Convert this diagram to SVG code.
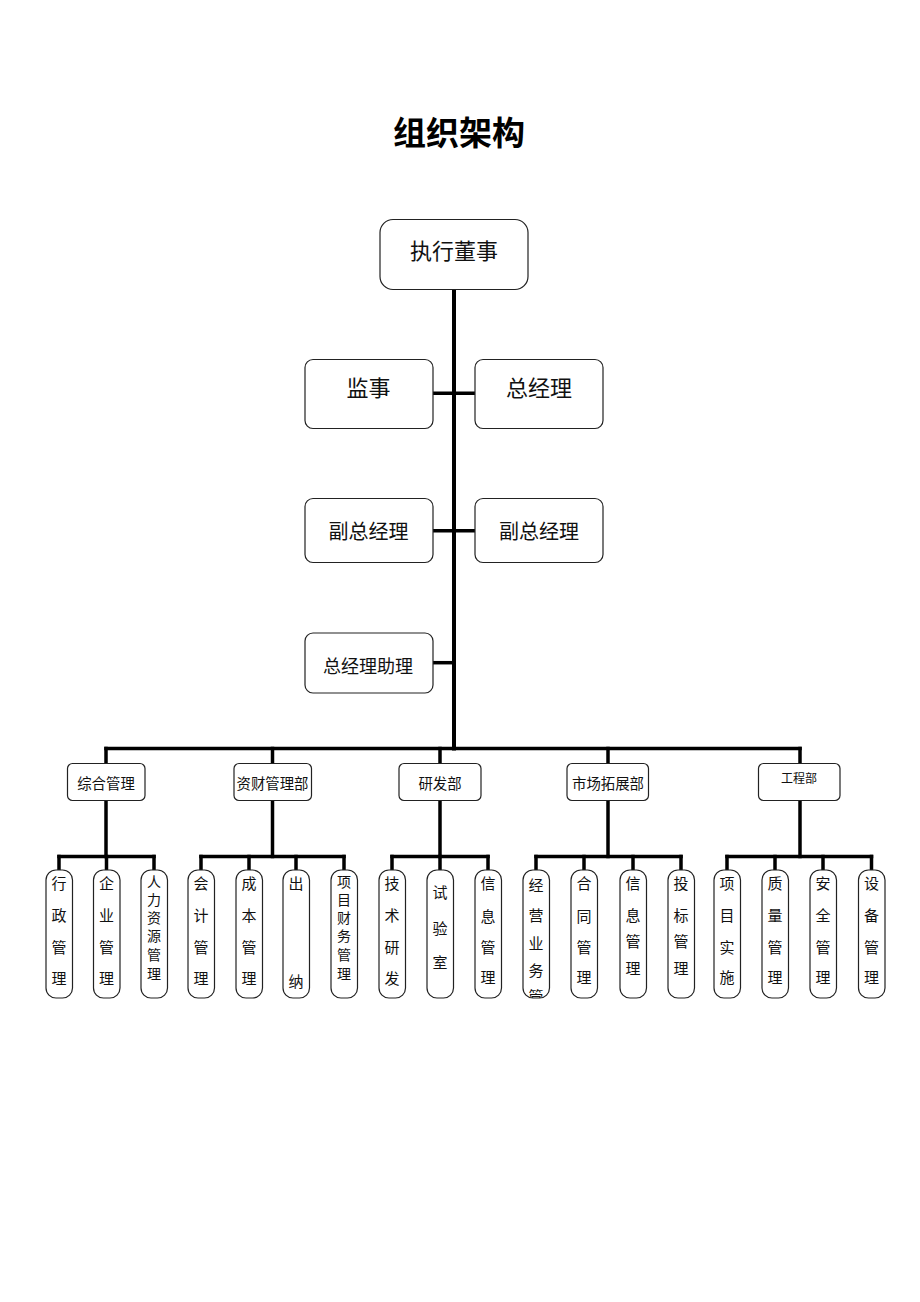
<svg xmlns="http://www.w3.org/2000/svg" width="920" height="1302" viewBox="0 0 920 1302">
<style>
text{font-family:"Noto Sans CJK SC","Noto Sans",sans-serif;fill:#111;text-anchor:middle;dominant-baseline:central}
.box{fill:#fff;stroke:#222;stroke-width:1.2}
.title{font-size:33px;font-weight:bold;fill:#000}
.t22{font-size:22px}
.t20{font-size:20px}
.t18{font-size:18px}
.t14{font-size:14.4px}
.t12{font-size:12px}
.leaf text{font-size:15px}
.leaf text.sm{font-size:14px}
.conn line{stroke:#000;stroke-width:3.5;stroke-linecap:square}
</style>
<defs>
<clipPath id="clip11"><rect x="523" y="870" width="26.5" height="128" rx="10"/></clipPath>
</defs>
<rect width="920" height="1302" fill="#fff"/>
<text class="title" x="459" y="131">组织架构</text>

<g class="conn" id="connectors">
<line x1="454" y1="290" x2="454" y2="748.5" style="stroke-width:4"/>
<line x1="433" y1="393.3" x2="475" y2="393.3"/>
<line x1="433" y1="530.7" x2="475" y2="530.7"/>
<line x1="433" y1="662.7" x2="454" y2="662.7"/>
<line x1="106" y1="748.5" x2="800" y2="748.5"/>
<line x1="106" y1="748.5" x2="106" y2="763"/>
<line x1="272.5" y1="748.5" x2="272.5" y2="763"/>
<line x1="440" y1="748.5" x2="440" y2="763"/>
<line x1="608" y1="748.5" x2="608" y2="763"/>
<line x1="800" y1="748.5" x2="800" y2="763"/>
<line x1="106" y1="801" x2="106" y2="856.5"/>
<line x1="272.5" y1="801" x2="272.5" y2="856.5"/>
<line x1="440" y1="801" x2="440" y2="856.5"/>
<line x1="608" y1="801" x2="608" y2="856.5"/>
<line x1="800" y1="801" x2="800" y2="856.5"/>
<line x1="59" y1="856.5" x2="154" y2="856.5"/>
<line x1="201" y1="856.5" x2="344" y2="856.5"/>
<line x1="392" y1="856.5" x2="488" y2="856.5"/>
<line x1="536" y1="856.5" x2="681" y2="856.5"/>
<line x1="727" y1="856.5" x2="871.5" y2="856.5"/>
<line x1="59" y1="856.5" x2="59" y2="870"/>
<line x1="106.5" y1="856.5" x2="106.5" y2="870"/>
<line x1="154" y1="856.5" x2="154" y2="870"/>
<line x1="201" y1="856.5" x2="201" y2="870"/>
<line x1="249" y1="856.5" x2="249" y2="870"/>
<line x1="296" y1="856.5" x2="296" y2="870"/>
<line x1="344" y1="856.5" x2="344" y2="870"/>
<line x1="392" y1="856.5" x2="392" y2="870"/>
<line x1="440" y1="856.5" x2="440" y2="870"/>
<line x1="488" y1="856.5" x2="488" y2="870"/>
<line x1="536" y1="856.5" x2="536" y2="870"/>
<line x1="584" y1="856.5" x2="584" y2="870"/>
<line x1="633" y1="856.5" x2="633" y2="870"/>
<line x1="681" y1="856.5" x2="681" y2="870"/>
<line x1="727" y1="856.5" x2="727" y2="870"/>
<line x1="775" y1="856.5" x2="775" y2="870"/>
<line x1="823" y1="856.5" x2="823" y2="870"/>
<line x1="871.5" y1="856.5" x2="871.5" y2="870"/>
</g>

<g id="n-exec"><rect class="box" x="380" y="219.5" width="148" height="70" rx="13"/><text class="t22" x="454" y="249">执行董事</text></g>
<g id="n-supervisor"><rect class="box" x="305" y="359.5" width="128" height="69" rx="8"/><text class="t22" x="368.5" y="386">监事</text></g>
<g id="n-gm"><rect class="box" x="475" y="359.5" width="128" height="69" rx="8"/><text class="t22" x="539" y="386">总经理</text></g>
<g id="n-dgm1"><rect class="box" x="305" y="498.5" width="128" height="64" rx="8"/><text class="t20" x="368.5" y="530.5">副总经理</text></g>
<g id="n-dgm2"><rect class="box" x="475" y="498.5" width="128" height="64" rx="8"/><text class="t20" x="539" y="530.5">副总经理</text></g>
<g id="n-gma"><rect class="box" x="305" y="633" width="128" height="60" rx="8"/><text class="t18" x="368" y="665">总经理助理</text></g>

<g id="d-admin"><rect class="box" x="67.5" y="763.5" width="77.5" height="37" rx="5"/><text class="t14" x="106" y="782.5">综合管理</text></g>
<g id="d-finance"><rect class="box" x="234" y="763.5" width="77.5" height="37" rx="5"/><text class="t14" x="272.5" y="782.5">资财管理部</text></g>
<g id="d-rd"><rect class="box" x="399" y="763.5" width="82" height="37" rx="5"/><text class="t14" x="440" y="782.5">研发部</text></g>
<g id="d-market"><rect class="box" x="567" y="763.5" width="81.5" height="37" rx="5"/><text class="t14" x="608" y="782.5">市场拓展部</text></g>
<g id="d-eng"><rect class="box" x="758.5" y="763.5" width="81.5" height="37" rx="5"/><text class="t12" x="799" y="777">工程部</text></g>

<g class="leaf" id="l1"><rect class="box" x="46" y="870" width="26.5" height="128" rx="10"/><text x="59" y="882">行</text><text x="59" y="914">政</text><text x="59" y="946">管</text><text x="59" y="977">理</text></g>
<g class="leaf" id="l2"><rect class="box" x="93.5" y="870" width="26.5" height="128" rx="10"/><text x="106.5" y="882">企</text><text x="106.5" y="914">业</text><text x="106.5" y="946">管</text><text x="106.5" y="977">理</text></g>
<g class="leaf" id="l3"><rect class="box" x="141" y="870" width="26.5" height="128" rx="10"/><text class="sm" x="154" y="881">人</text><text class="sm" x="154" y="899">力</text><text class="sm" x="154" y="917">资</text><text class="sm" x="154" y="935">源</text><text class="sm" x="154" y="954">管</text><text class="sm" x="154" y="973">理</text></g>
<g class="leaf" id="l4"><rect class="box" x="188" y="870" width="26.5" height="128" rx="10"/><text x="201" y="882">会</text><text x="201" y="914">计</text><text x="201" y="946">管</text><text x="201" y="977">理</text></g>
<g class="leaf" id="l5"><rect class="box" x="236" y="870" width="26.5" height="128" rx="10"/><text x="249" y="882">成</text><text x="249" y="914">本</text><text x="249" y="946">管</text><text x="249" y="977">理</text></g>
<g class="leaf" id="l6"><rect class="box" x="283" y="870" width="26.5" height="128" rx="10"/><text x="296" y="882">出</text><text x="296" y="980">纳</text></g>
<g class="leaf" id="l7"><rect class="box" x="331" y="870" width="26.5" height="128" rx="10"/><text class="sm" x="344" y="881">项</text><text class="sm" x="344" y="899">目</text><text class="sm" x="344" y="917">财</text><text class="sm" x="344" y="935">务</text><text class="sm" x="344" y="954">管</text><text class="sm" x="344" y="973">理</text></g>
<g class="leaf" id="l8"><rect class="box" x="379" y="870" width="26.5" height="128" rx="10"/><text x="392" y="882">技</text><text x="392" y="914">术</text><text x="392" y="946">研</text><text x="392" y="977">发</text></g>
<g class="leaf" id="l9"><rect class="box" x="427" y="870" width="26.5" height="128" rx="10"/><text x="440" y="891">试</text><text x="440" y="927">验</text><text x="440" y="961">室</text></g>
<g class="leaf" id="l10"><rect class="box" x="475" y="870" width="26.5" height="128" rx="10"/><text x="488" y="882">信</text><text x="488" y="915">息</text><text x="488" y="946">管</text><text x="488" y="976">理</text></g>
<g class="leaf" id="l11"><rect class="box" x="523" y="870" width="26.5" height="128" rx="10"/><g clip-path="url(#clip11)"><text x="536" y="884">经</text><text x="536" y="914">营</text><text x="536" y="942">业</text><text x="536" y="969">务</text><text x="536" y="995">管</text></g></g>
<g class="leaf" id="l12"><rect class="box" x="571" y="870" width="26.5" height="128" rx="10"/><text x="584" y="882">合</text><text x="584" y="915">同</text><text x="584" y="946">管</text><text x="584" y="976">理</text></g>
<g class="leaf" id="l13"><rect class="box" x="620" y="870" width="26.5" height="128" rx="10"/><text x="633" y="882">信</text><text x="633" y="914">息</text><text x="633" y="940">管</text><text x="633" y="967">理</text></g>
<g class="leaf" id="l14"><rect class="box" x="668" y="870" width="26.5" height="128" rx="10"/><text x="681" y="882">投</text><text x="681" y="914">标</text><text x="681" y="940">管</text><text x="681" y="967">理</text></g>
<g class="leaf" id="l15"><rect class="box" x="714" y="870" width="26.5" height="128" rx="10"/><text x="727" y="882">项</text><text x="727" y="914">目</text><text x="727" y="946">实</text><text x="727" y="976">施</text></g>
<g class="leaf" id="l16"><rect class="box" x="762" y="870" width="26.5" height="128" rx="10"/><text x="775" y="882">质</text><text x="775" y="914">量</text><text x="775" y="946">管</text><text x="775" y="976">理</text></g>
<g class="leaf" id="l17"><rect class="box" x="810" y="870" width="26.5" height="128" rx="10"/><text x="823" y="882">安</text><text x="823" y="914">全</text><text x="823" y="946">管</text><text x="823" y="976">理</text></g>
<g class="leaf" id="l18"><rect class="box" x="858.5" y="870" width="26.5" height="128" rx="10"/><text x="871.5" y="882">设</text><text x="871.5" y="914">备</text><text x="871.5" y="946">管</text><text x="871.5" y="976">理</text></g>
</svg>
